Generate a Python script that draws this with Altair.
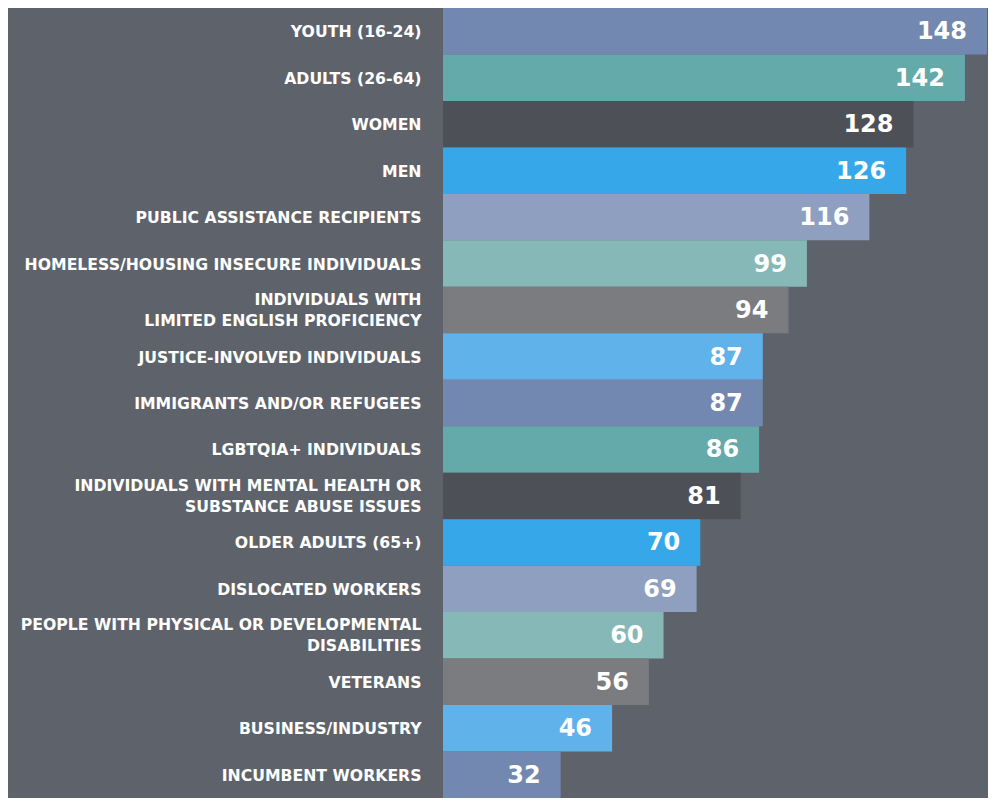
import altair as alt
import pandas as pd

categories = [
    "YOUTH (16-24)",
    "ADULTS (26-64)",
    "WOMEN",
    "MEN",
    "PUBLIC ASSISTANCE RECIPIENTS",
    "HOMELESS/HOUSING INSECURE INDIVIDUALS",
    "INDIVIDUALS WITH\nLIMITED ENGLISH PROFICIENCY",
    "JUSTICE-INVOLVED INDIVIDUALS",
    "IMMIGRANTS AND/OR REFUGEES",
    "LGBTQIA+ INDIVIDUALS",
    "INDIVIDUALS WITH MENTAL HEALTH OR\nSUBSTANCE ABUSE ISSUES",
    "OLDER ADULTS (65+)",
    "DISLOCATED WORKERS",
    "PEOPLE WITH PHYSICAL OR DEVELOPMENTAL\nDISABILITIES",
    "VETERANS",
    "BUSINESS/INDUSTRY",
    "INCUMBENT WORKERS",
]
values = [148, 142, 128, 126, 116, 99, 94, 87, 87, 86, 81, 70, 69, 60, 56, 46, 32]

palette = ["#7388b0", "#64aaaa", "#4e5058", "#36a7e8",
           "#8e9fc0", "#86b8b8", "#7b7c80", "#60b2ea"]

df = pd.DataFrame({
    "category": categories,
    "value": values,
    "group": [i % len(palette) for i in range(len(categories))],
})

y = alt.Y(
    "category:N",
    sort=categories,
    scale=alt.Scale(paddingInner=0, paddingOuter=0),
    axis=alt.Axis(
        title=None, domain=False, ticks=False,
        labelColor="white", labelFont="DejaVu Sans", labelFontWeight="bold",
        labelFontSize=15.7, labelPadding=22, labelLimit=0,
        labelLineHeight=21,
        labelExpr="split(datum.label, '\\n')",
        labelOffset={"condition": {"test": "indexof(datum.label, '\\n') >= 0", "value": -10}, "value": 1},
    ),
)
x = alt.X("value:Q", scale=alt.Scale(domain=[0, 148], nice=False, zero=True), axis=None)

bars = alt.Chart(df).mark_bar(strokeWidth=0).encode(
    x=x, y=y,
    color=alt.Color("group:O", scale=alt.Scale(domain=list(range(len(palette))), range=palette), legend=None),
)
labels = alt.Chart(df).mark_text(
    align="right", baseline="middle", dx=-20, dy=1,
    color="white", font="DejaVu Sans", fontWeight="bold", fontSize=24,
).encode(x=x, y=y, text="value:Q")

chart = (bars + labels).properties(
    width=544, height=790,
    autosize=alt.AutoSizeParams(type="none"),
    padding={"left": 435, "top": 0, "right": 1, "bottom": 0},
    background="#5e636b",
).configure_view(stroke=None)

chart.save("out.html", embed_options={"renderer": "svg", "actions": False})
